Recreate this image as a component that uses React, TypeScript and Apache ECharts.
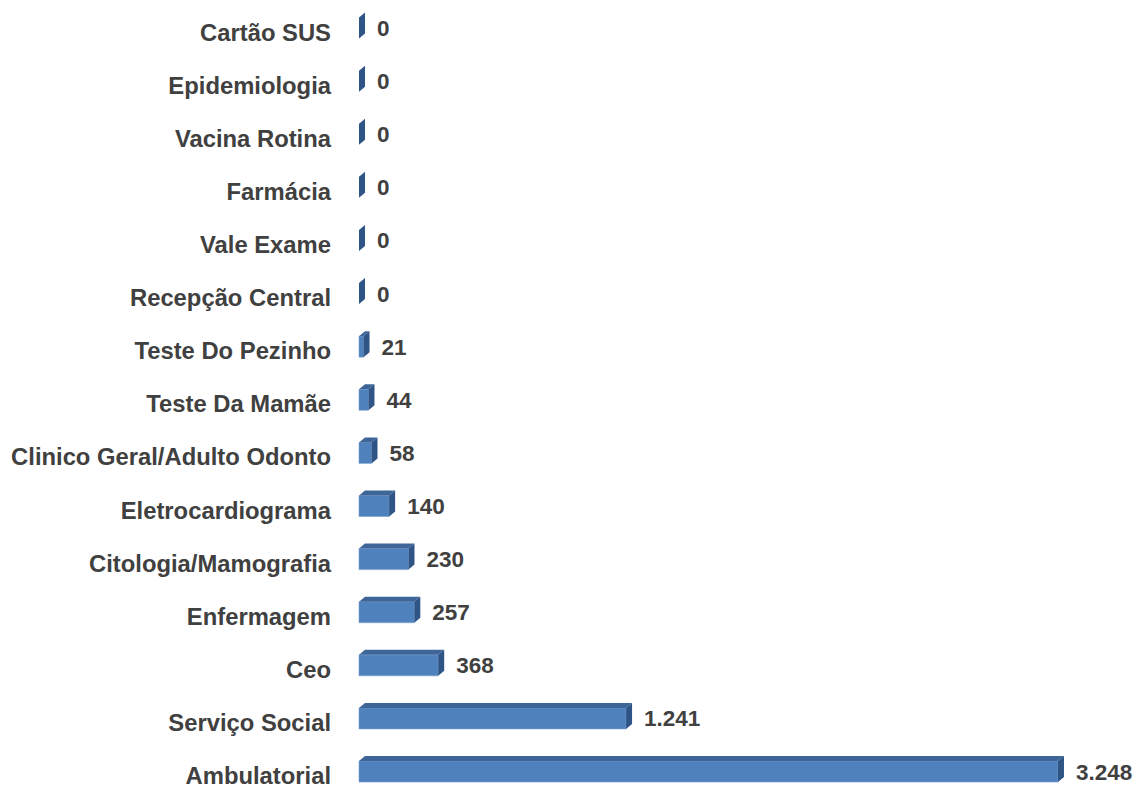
import React, { useEffect, useRef } from "react";
import * as echarts from "echarts";

const categories = [
  "Ambulatorial",
  "Serviço Social",
  "Ceo",
  "Enfermagem",
  "Citologia/Mamografia",
  "Eletrocardiograma",
  "Clinico Geral/Adulto Odonto",
  "Teste Da Mamãe",
  "Teste Do Pezinho",
  "Recepção Central",
  "Vale Exame",
  "Farmácia",
  "Vacina Rotina",
  "Epidemiologia",
  "Cartão SUS",
];
const values = [3248, 1241, 368, 257, 230, 140, 58, 44, 21, 0, 0, 0, 0, 0, 0];

const fmt = (v: number) => String(v).replace(/\B(?=(\d{3})+(?!\d))/g, ".");

const FONT = '"Liberation Sans", Arial, sans-serif';

export default function App() {
  const ref = useRef<HTMLDivElement>(null);
  useEffect(() => {
    if (!ref.current) return;
    const chart = echarts.init(ref.current, null, { renderer: "svg" });
    const H = 21, DX = 6, DY = 5;
    chart.setOption({
      animation: false,
      backgroundColor: "#ffffff",
      grid: { left: 359, top: 0.5, width: 753.2, height: 796.6, containLabel: false },
      xAxis: { type: "value", min: 0, max: 3500, show: false },
      yAxis: {
        type: "category",
        data: categories,
        axisLine: { show: false },
        axisTick: { show: false },
        splitLine: { show: false },
        axisLabel: {
          margin: 28,
          color: "#404040",
          fontSize: 23.8,
          fontWeight: "bold",
          fontFamily: FONT,
          verticalAlign: "top",
          lineHeight: 10,
        },
      },
      series: [
        {
          type: "custom",
          clip: false,
          encode: { x: 0, y: 1 },
          data: values.map((v, i) => [v, i]),
          renderItem: (params: any, api: any) => {
            const v = api.value(0);
            const idx = api.value(1);
            const s = api.coord([0, idx]);
            const e = api.coord([v, idx]);
            const x0 = s[0];
            const x1 = e[0];
            const yc = s[1] + 1;
            const top = yc - H / 2;
            const bottom = yc + H / 2;
            const children: any[] = [];
            if (x1 - x0 > 0.5) {
              children.push({
                type: "rect",
                shape: { x: x0, y: top, width: x1 - x0, height: H },
                style: { fill: "#4F81BD", stroke: "#7AA0D0", lineWidth: 0.6 },
              });
              children.push({
                type: "polygon",
                shape: { points: [[x0, top], [x0 + DX, top - DY], [x1 + DX, top - DY], [x1, top]] },
                style: { fill: "#3E6597" },
              });
            }
            children.push({
              type: "polygon",
              shape: { points: [[x1, top], [x1 + DX, top - DY], [x1 + DX, bottom - DY], [x1, bottom]] },
              style: { fill: "#2F5486" },
            });
            children.push({
              type: "text",
              style: {
                x: x1 + 18,
                y: yc + 0.5,
                text: fmt(v),
                fill: "#404040",
                fontSize: 22.5,
                fontWeight: "bold",
                fontFamily: FONT,
                align: "left",
                verticalAlign: "middle",
              },
            });
            return { type: "group", children };
          },
        },
      ],
    });
    return () => chart.dispose();
  }, []);
  return (
    <div
      ref={ref}
      style={{ position: "fixed", left: 0, top: 0, width: 1137, height: 800, background: "#fff" }}
    />
  );
}
